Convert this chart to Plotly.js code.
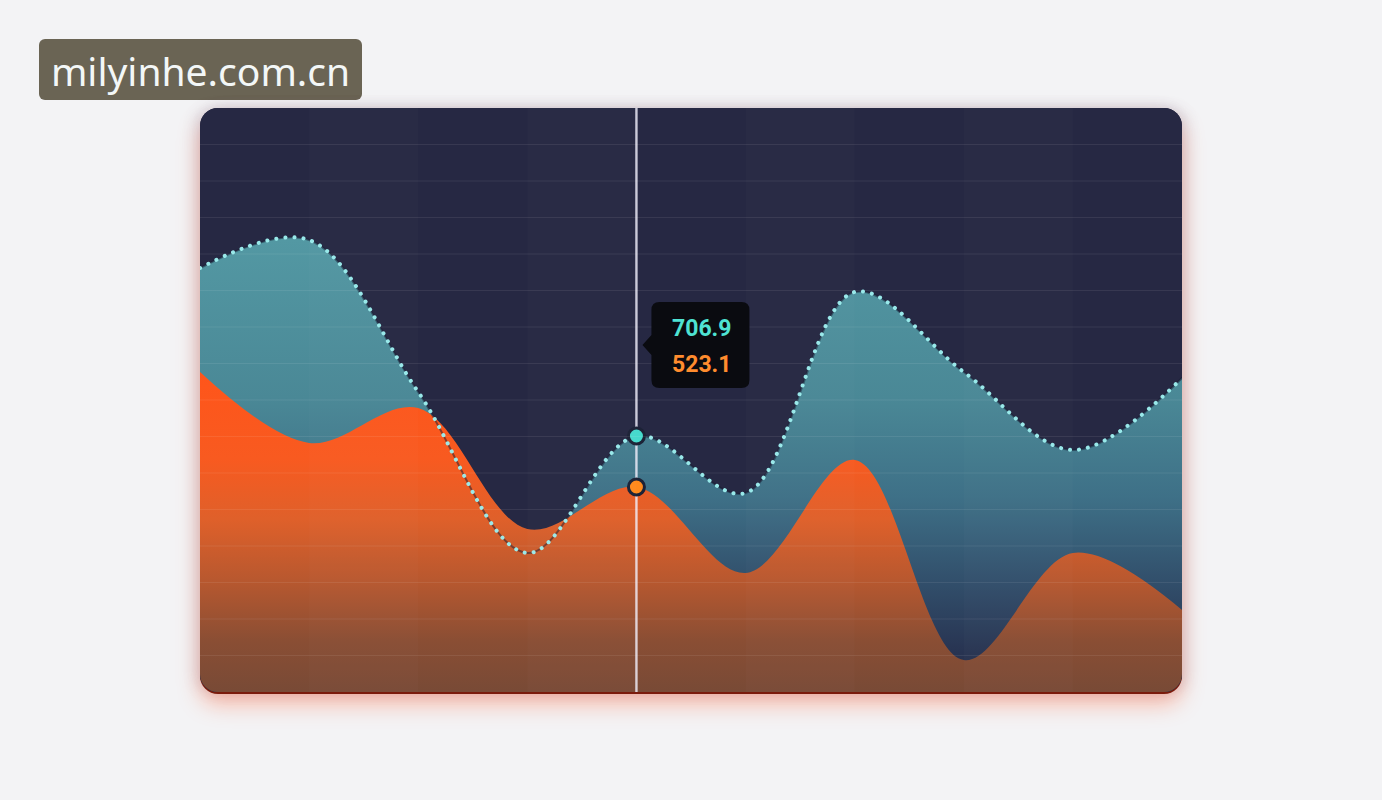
<!DOCTYPE html>
<html>
<head>
<meta charset="utf-8">
<script src="https://cdn.plot.ly/plotly-3.0.1.min.js"></script>
<style>
html, body { margin: 0; width: 1382px; height: 800px; background: #f3f3f5; overflow: hidden }
#mark {
  position: absolute; left: 39px; top: 39px; width: 323px; height: 61px; border-radius: 6px;
  background: #6a6454; color: #f3f7f7; font: 39px 'Noto Sans', 'Open Sans', sans-serif;
  line-height: 64px; text-align: center; white-space: nowrap;
}
#panel {
  position: absolute; left: 200px; top: 108px; width: 982px; height: 584px;
  border-radius: 18px; overflow: hidden; background: #262843;
  box-shadow: 0 2px 0 #7a1b0c, 0 12px 22px rgba(255, 95, 50, 0.40),
    -5px 0 14px rgba(90, 90, 130, 0.16), 5px 0 14px rgba(90, 90, 130, 0.16);
}
#chart { width: 982px; height: 584px }
#chart .js-line { stroke-linecap: round !important }
</style>
</head>
<body>
<div id="mark">milyinhe.com.cn</div>
<div id="panel"><div id="chart"></div></div>
<script>
// values, one point per column
const steps = [0, 1, 2, 3, 4, 5, 6, 7, 8, 9]
const teal = [1312.3, 1413.3, 865.5, 285.3, 706.9, 501.5, 1225.9, 937.6, 656.5, 915.9]
const orange = [937.6, 681.7, 807.8, 371.7, 523.1, 213.2, 620.4, -100.4, 285.3, 79.8]
const active = 4
const yRange = [-215.7, 1889]
const gridCount = 16

const base = steps.map(() => yRange[0])
const spline = { shape: 'spline', smoothing: 1 }
const ax = a => ({ range: a, showgrid: false, zeroline: false, showticklabels: false, ticks: '', fixedrange: true })

const traces = [
  { x: steps, y: base, mode: 'lines', line: { width: 0 }, hoverinfo: 'skip' },
  {
    x: steps, y: teal, mode: 'lines', fill: 'tonexty', line: { ...spline, width: 0 }, hoverinfo: 'skip',
    fillgradient: {
      type: 'vertical', start: yRange[0], stop: Math.max(...teal),
      colorscale: [[0, '#262a46'], [0.09, '#283452'], [0.25, '#32506c'], [0.43, '#3e7087'], [0.65, '#4a8896'], [1, '#5398a3']],
    },
  },
  { x: steps, y: base, mode: 'lines', line: { width: 0 }, hoverinfo: 'skip' },
  {
    x: steps, y: orange, mode: 'lines', fill: 'tonexty', line: { ...spline, width: 0 }, hoverinfo: 'skip',
    fillgradient: {
      type: 'vertical', start: yRange[0], stop: Math.max(...orange),
      colorscale: [[0, '#784a36'], [0.16, '#8a4e34'], [0.35, '#b8582f'], [0.54, '#df602a'], [0.73, '#f85a20'], [1, '#ff551a']],
    },
  },
  {
    x: [steps[active], steps[active]], y: yRange, mode: 'lines', hoverinfo: 'skip',
    line: { color: 'rgba(240, 238, 250, 0.82)', width: 2.4 },
  },
  { x: steps, y: teal, mode: 'lines', line: { ...spline, color: 'rgba(22, 28, 50, 0.5)', width: 2 }, hoverinfo: 'skip' },
  { x: steps, y: teal, mode: 'lines', line: { ...spline, color: 'rgba(156, 238, 238, 0.97)', width: 4, dash: '0.1px,9px' }, hoverinfo: 'skip' },
  {
    x: [steps[active], steps[active]], y: [teal[active], orange[active]], mode: 'markers', hoverinfo: 'skip',
    marker: { size: 16, color: ['#46dacd', '#ff8a1c'], line: { color: '#1c2236', width: 3 } },
  },
]

const shapes = []
for (let i = 1; i < gridCount; ++i) {
  shapes.push({
    type: 'line', xref: 'paper', yref: 'paper', x0: 0, x1: 1, y0: i / gridCount, y1: i / gridCount,
    line: { color: 'rgba(255, 255, 255, 0.08)', width: 1 }, layer: 'above',
  })
}
for (let i = 1; i < steps.length - 1; i += 2) {
  shapes.push({
    type: 'rect', xref: 'x', yref: 'paper', x0: steps[i], x1: steps[i + 1], y0: 0, y1: 1,
    fillcolor: 'rgba(255, 255, 255, 0.014)', line: { width: 0 }, layer: 'above',
  })
}

// tooltip box, drawn in pixels next to the hovered column
const tipY = 0.594
shapes.push({
  type: 'path', xref: 'x', yref: 'paper', xsizemode: 'pixel', ysizemode: 'pixel',
  xanchor: steps[active], yanchor: tipY,
  path: 'M 23,-43 L 105,-43 Q 113,-43 113,-35 L 113,35 Q 113,43 105,43 L 23,43 Q 15,43 15,35 L 15,10 L 6,0 L 15,-10 L 15,-35 Q 15,-43 23,-43 Z',
  fillcolor: '#0a0b10', line: { width: 0 }, layer: 'above',
})

const tipFont = color => ({ family: "Roboto, 'DejaVu Sans Condensed', sans-serif", size: 23, color, weight: 700 })
const annotations = [
  { text: teal[active].toFixed(1), color: '#4fe3d3', shift: 17 },
  { text: orange[active].toFixed(1), color: '#ff8c2e', shift: -19 },
].map(e => ({
  xref: 'x', yref: 'paper', x: steps[active], y: tipY, xanchor: 'center', yanchor: 'middle',
  xshift: 65, yshift: e.shift, text: e.text, showarrow: false, font: tipFont(e.color),
}))

Plotly.newPlot(
  'chart',
  traces,
  {
    width: 982,
    height: 584,
    margin: { l: 0, r: 0, t: 0, b: 0 },
    paper_bgcolor: '#262843',
    plot_bgcolor: '#262843',
    showlegend: false,
    xaxis: ax([steps[0], steps[steps.length - 1]]),
    yaxis: ax(yRange),
    shapes,
    annotations,
  },
  { displayModeBar: false, staticPlot: true },
)
</script>
</body>
</html>
